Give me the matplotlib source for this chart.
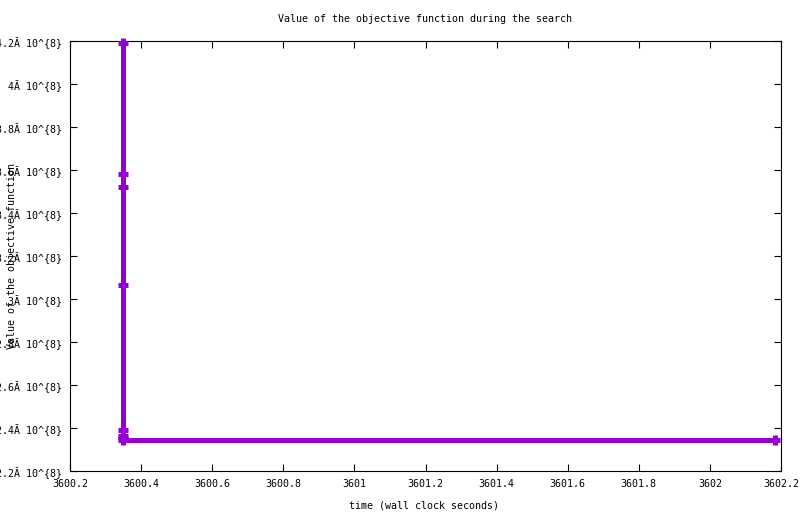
import matplotlib
matplotlib.use('Agg')
import matplotlib.pyplot as plt

# search trace: wall clock seconds vs objective value
times = [3600.348, 3600.348, 3600.348, 3600.348, 3600.348, 3600.348, 3600.348, 3600.348, 3602.183]
values = [4.19e8, 3.58e8, 3.522e8, 3.065e8, 2.392e8, 2.365e8, 2.355e8, 2.346e8, 2.346e8]

xticks = [3600.2, 3600.4, 3600.6, 3600.8, 3601.0, 3601.2, 3601.4, 3601.6, 3601.8, 3602.0, 3602.2]
xtick_labels = ['3600.2', '3600.4', '3600.6', '3600.8', '3601', '3601.2',
                '3601.4', '3601.6', '3601.8', '3602', '3602.2']
yticks = [2.2e8, 2.4e8, 2.6e8, 2.8e8, 3.0e8, 3.2e8, 3.4e8, 3.6e8, 3.8e8, 4.0e8, 4.2e8]
ytick_labels = ['2.2Ă 10^{8}', '2.4Ă 10^{8}', '2.6Ă 10^{8}', '2.8Ă 10^{8}', '3Ă 10^{8}',
                '3.2Ă 10^{8}', '3.4Ă 10^{8}', '3.6Ă 10^{8}', '3.8Ă 10^{8}', '4Ă 10^{8}',
                '4.2Ă 10^{8}']

plt.rcParams['font.family'] = ['DejaVu Sans Mono']
FS = 7.2

fig = plt.figure(figsize=(8, 5.14), dpi=100)
ax = fig.add_axes([70/800, 1 - 471/514, 711/800, 430/514])

ax.plot(times, values, color='#9400D3', linewidth=3.6, marker='+',
        markersize=7.5, markeredgewidth=3.6, clip_on=False, zorder=3)

ax.set_xlim(3600.2, 3602.2)
ax.set_ylim(2.2e8, 4.2e8)
ax.set_xticks(xticks)
ax.set_xticklabels(xtick_labels, fontsize=FS)
ax.set_yticks(yticks)
ax.set_yticklabels(ytick_labels, fontsize=FS)
ax.tick_params(direction='in', length=5, width=0.8, top=True, right=True, pad=6)
for s in ax.spines.values():
    s.set_linewidth(0.8)

fig.text(425/800, 1 - 19/514, 'Value of the objective function during the search',
         ha='center', va='center', fontsize=FS)
fig.text(424/800, 1 - 505/514, 'time (wall clock seconds)',
         ha='center', va='center', fontsize=FS)
fig.text(12/800, 1 - 256/514, 'Value of the objective function',
         ha='center', va='center', rotation=90, fontsize=FS)

fig.savefig('out.png', dpi=100)
